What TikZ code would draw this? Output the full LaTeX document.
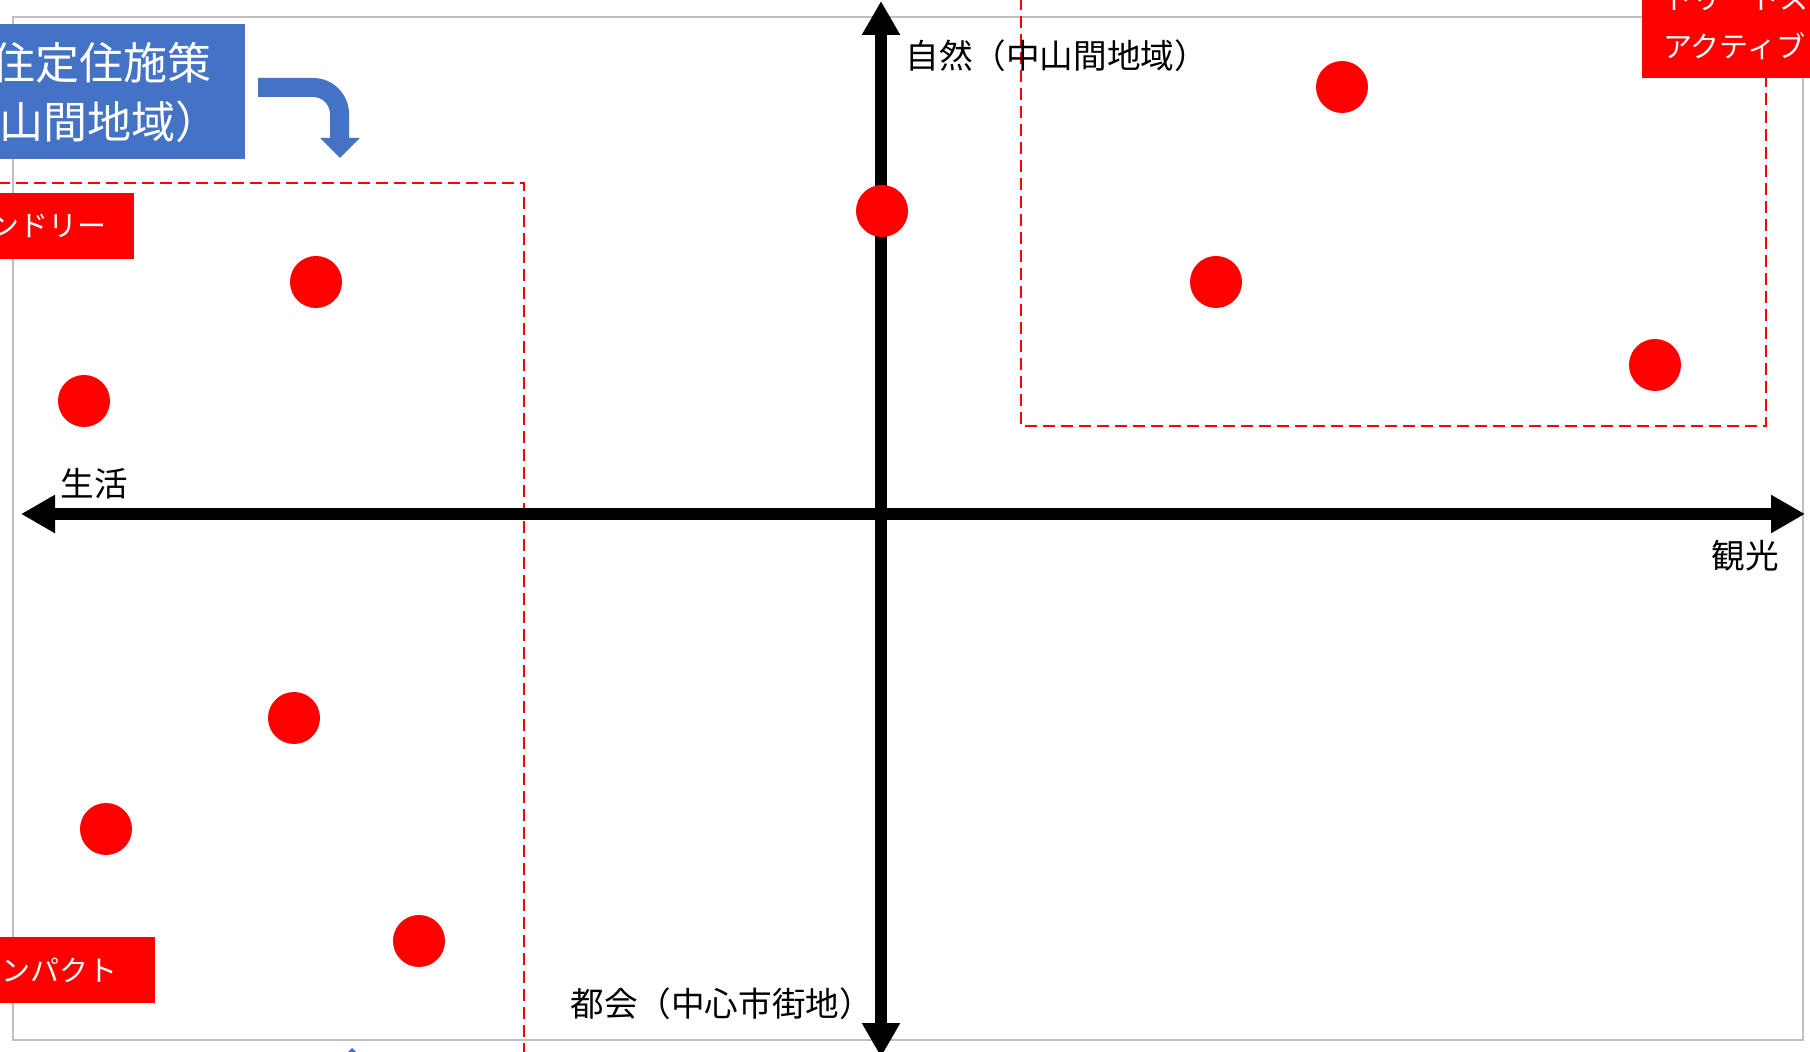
\documentclass[tikz,border=0pt]{standalone}
\usepackage{fontspec}
\setmainfont{Noto Sans CJK JP}
\usetikzlibrary{arrows.meta}
\definecolor{offblue}{HTML}{4472C4}
\definecolor{framegray}{HTML}{BFBFBF}
\definecolor{labelred}{HTML}{FF0000}
\tikzset{
  axisline/.style={line width=6pt, draw=black, {Triangle[length=17pt 0 0,width=18pt 0 0]}-{Triangle[length=17pt 0 0,width=18pt 0 0]}},
  reddash/.style={draw=labelred, line width=1pt, dash pattern=on 6pt off 3pt},
  dot/.style={circle, fill=labelred, draw=none, minimum size=26pt, inner sep=0pt},
  axislabel/.style={inner sep=0pt, font=\fontsize{16.8}{20}\selectfont, text=black},
  redtext/.style={inner sep=0pt, font=\fontsize{14.5}{17}\selectfont, text=white},
  bluetext/.style={inner sep=0pt, font=\fontsize{22}{26}\selectfont, text=white},
}
\begin{document}
\begin{tikzpicture}[x=0.5pt,y=-0.5pt]
\useasboundingbox (0,0) rectangle (1810,1052);
\clip (0,0) rectangle (1810,1052);
\fill[white] (0,0) rectangle (1810,1052);
% frame
\draw[framegray, line width=1pt] (13,17) rectangle (1803,1040);
% dashed areas
\draw[reddash] (-20,183) -- (524,183) -- (524,1070);
\draw[reddash] (1021,-20) -- (1021,426) -- (1766,426) -- (1766,-20);
% axes
\coordinate (xl) at (21,514);
\coordinate (xr) at (1805,514);
\coordinate (yt) at (881,1);
\coordinate (yb) at (881,1057);
\draw[axisline] (xl) -- (xr);
\draw[axisline] (yt) -- (yb);
% axis labels
\node[axislabel, anchor=west] (nat) at (905,56) {自然（中山間地域）};
\node[axislabel, anchor=west] (city) at (570,1004) {都会（中心市街地）};
\node[axislabel, anchor=west] (tour) at (1711,556) {観光};
\node[axislabel, anchor=west] (life) at (60,484) {生活};
% dots
\node[dot] (d1) at (316,282) {};
\node[dot] (d2) at (84,401) {};
\node[dot] (d3) at (882,211) {};
\node[dot] (d4) at (1342,87) {};
\node[dot] (d5) at (1216,282) {};
\node[dot] (d6) at (1655,365) {};
\node[dot] (d7) at (294,718) {};
\node[dot] (d8) at (106,829) {};
\node[dot] (d9) at (419,941) {};
% blue box
\fill[offblue] (-20,24) rectangle (245,159);
\node[bluetext, anchor=east] (b1) at (212,63) {移住定住施策};
\node[bluetext, anchor=east] (b2) at (220,122) {（中山間地域）};
% blue bent arrow
\fill[offblue] (258,78) -- (313,78) .. controls (332.9,78) and (349,94.1) .. (349,114)
  -- (349,138) -- (360,138) -- (340,158) -- (320,138) -- (330,138) -- (330,114)
  .. controls (330,104.6) and (322.4,97) .. (313,97) -- (258,97) -- cycle;
% blue arrow tip at bottom
\fill[offblue] (332,1068) -- (352,1048) -- (372,1068) -- cycle;
% red labels
\fill[labelred] (-20,193) rectangle (134,259);
\node[redtext, anchor=east] (r1) at (107,226) {フレンドリー};
\fill[labelred] (-20,937) rectangle (155,1003);
\node[redtext, anchor=east] (r2) at (118,970) {コンパクト};
\fill[labelred] (1642,-30) rectangle (1830,78);
\node[redtext, anchor=west] (r3) at (1663,-1) {トリートス};
\node[redtext, anchor=west] (r4) at (1663,46) {アクティブ};
\end{tikzpicture}
\end{document}
